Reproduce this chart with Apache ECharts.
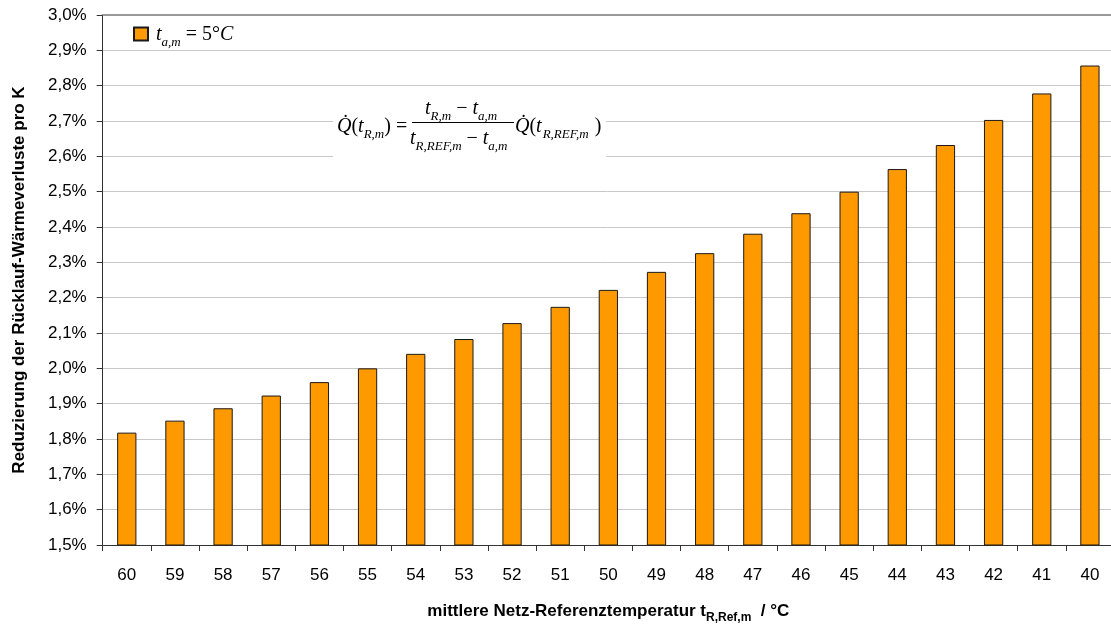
<!DOCTYPE html>
<html>
<head>
<meta charset="utf-8">
<script src="https://cdn.jsdelivr.net/npm/echarts@6/dist/echarts.min.js"></script>
<style>
html,body{margin:0;padding:0;background:#fff;}
#chart{width:1111px;height:624px;}
</style>
</head>
<body>
<div id="chart"></div>
<script>
// Mean network reference temperature (°C), left to right
var categories = ['60','59','58','57','56','55','54','53','52','51','50','49','48','47','46','45','44','43','42','41','40'];
// Reduction of return-pipe heat losses per K (%)
var reduction = [1.818, 1.852, 1.887, 1.923, 1.961, 2.000, 2.041, 2.083, 2.128, 2.174, 2.222,
                 2.273, 2.326, 2.381, 2.439, 2.500, 2.564, 2.632, 2.703, 2.778, 2.857];
var seriesName = 't_a,m = 5°C';
var yMin = 1.5, yMax = 3.0, yStep = 0.1;

var sans = '"Liberation Sans", Arial, sans-serif';
var serif = '"Liberation Serif", "Times New Roman", serif';

var chart = echarts.init(document.getElementById('chart'), null, {renderer: 'canvas'});

var mathRich = {
  i: {fontFamily: serif, fontStyle: 'italic', fontSize: 20, color: '#000', lineHeight: 22, verticalAlign: 'bottom'},
  r: {fontFamily: serif, fontSize: 20, color: '#000', lineHeight: 22, verticalAlign: 'bottom'},
  s: {fontFamily: serif, fontStyle: 'italic', fontSize: 13, color: '#000', lineHeight: 15, verticalAlign: 'bottom', padding: [0, 0, -4, 0]},
  sw: {fontFamily: serif, fontStyle: 'italic', fontSize: 13, color: '#000', lineHeight: 15, verticalAlign: 'bottom', padding: [0, 6, -4, 1]}
};

function mathText(x, y, str) {
  return {
    type: 'text', left: x, top: y, z: 20,
    style: {text: str, rich: mathRich, fill: '#000'}
  };
}

var option = {
  animation: false,
  backgroundColor: '#fff',
  grid: {left: 102.7, right: -3, top: 15, bottom: 79, containLabel: false, outerBoundsMode: 'none'},
  legend: {
    left: 128, top: 20,
    itemWidth: 14, itemHeight: 13, itemGap: 10,
    icon: 'rect',
    formatter: function () {
      return '{i|t}{s|a,m}{r| = 5°}{i|C}';
    },
    textStyle: {rich: mathRich, padding: [0, 0, 0, 3]},
    data: [seriesName]
  },
  xAxis: [{
    type: 'category',
    data: categories,
    boundaryGap: true,
    axisLine: {lineStyle: {color: '#333', width: 1}},
    axisTick: {show: true, length: 6, lineStyle: {color: '#333'}},
    axisLabel: {fontFamily: sans, fontSize: 17, color: '#000', margin: 22},
    splitLine: {show: false},
    name: '{b|mittlere Netz-Referenztemperatur t}{bs|R,Ref,m}{b|  / °C}',
    nameLocation: 'middle',
    nameGap: 55,
    nameTextStyle: {
      rich: {
        b: {fontFamily: sans, fontWeight: 'bold', fontSize: 17, color: '#000', lineHeight: 20, verticalAlign: 'bottom'},
        bs: {fontFamily: sans, fontWeight: 'bold', fontSize: 12, color: '#000', lineHeight: 14, verticalAlign: 'bottom', padding: [0, 0, -4, 0]}
      }
    }
  }, {
    type: 'category',
    position: 'top',
    data: categories,
    axisLine: {show: true, lineStyle: {color: '#9a9a9a', width: 2}},
    axisTick: {show: false},
    axisLabel: {show: false}
  }],
  yAxis: {
    type: 'value',
    min: yMin, max: yMax, interval: yStep,
    axisLine: {show: true, lineStyle: {color: '#333', width: 1}},
    axisTick: {show: true, length: 6, inside: false, lineStyle: {color: '#333'}},
    axisLabel: {
      fontFamily: sans, fontSize: 17, color: '#000', margin: 16,
      formatter: function (v) { return v.toFixed(1).replace('.', ',') + '%'; }
    },
    splitLine: {show: true, lineStyle: {color: '#c8c8c8', width: 1}},
    name: 'Reduzierung der Rücklauf-Wärmeverluste pro K',
    nameLocation: 'middle',
    nameGap: 75,
    nameRotate: 90,
    nameTextStyle: {fontFamily: sans, fontWeight: 'bold', fontSize: 17, color: '#000'}
  },
  series: [{
    name: seriesName,
    type: 'bar',
    data: reduction,
    barWidth: '40%',
    itemStyle: {color: '#FF9900', borderColor: '#1a1a1a', borderWidth: 1}
  }],
  graphic: [
    // white panel behind the formula
    {type: 'rect', left: 333, top: 100, z: 10, shape: {width: 273, height: 66}, style: {fill: '#fff'}},
    mathText(337, 117, '{i|Q̇}{r|(}{i|t}{s|R,m}{r|) =}'),
    mathText(425, 99, '{i|t}{s|R,m}{r| − }{i|t}{s|a,m}'),
    {type: 'rect', left: 412, top: 122, z: 20, shape: {width: 102, height: 1}, style: {fill: '#000'}},
    mathText(410, 129, '{i|t}{s|R,REF,m}{r| − }{i|t}{s|a,m}'),
    mathText(515, 117, '{i|Q̇}{r|(}{i|t}{sw|R,REF,m}{r|)}')
  ]
};

chart.setOption(option);
</script>
</body>
</html>
